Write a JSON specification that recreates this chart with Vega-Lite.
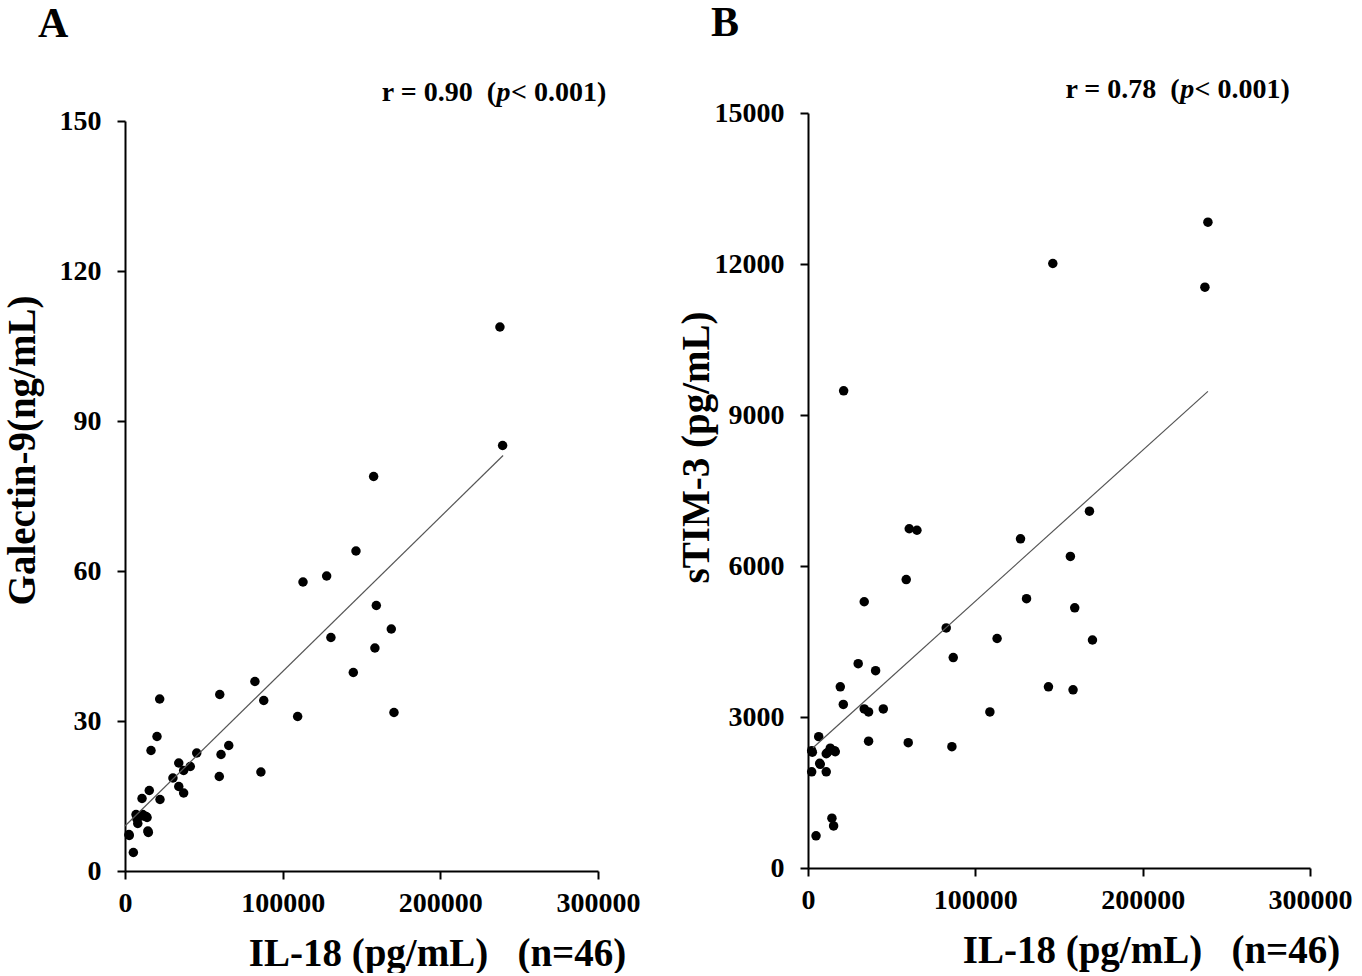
{
  "$schema": "https://vega.github.io/schema/vega-lite/v6.json",
  "background": "white",
  "padding": {"left": 3, "top": 2, "right": 4, "bottom": 0},
  "spacing": 37,
  "config": {
    "view": {"stroke": null},
    "font": "Liberation Serif",
    "axis": {
      "grid": false,
      "domainColor": "black",
      "domainWidth": 2,
      "tickColor": "black",
      "tickWidth": 2,
      "tickSize": 8,
      "labelFlush": false,
      "labelFont": "Liberation Serif",
      "labelFontWeight": "bold",
      "labelFontSize": 28,
      "labelColor": "black",
      "titleFont": "Liberation Serif",
      "titleFontWeight": "bold",
      "titleFontSize": 39,
      "titleColor": "black"
    },
    "title": {"font": "Liberation Serif", "fontWeight": "bold", "fontSize": 42, "color": "black"}
  },
  "datasets": {
    "a": [
      {"il18": 237800, "gal9": 108.8}, {"il18": 239500, "gal9": 85.1}, {"il18": 157700, "gal9": 78.9},
      {"il18": 146500, "gal9": 64.0}, {"il18": 127900, "gal9": 59.0}, {"il18": 112900, "gal9": 57.8},
      {"il18": 159400, "gal9": 53.1}, {"il18": 168900, "gal9": 48.4}, {"il18": 130600, "gal9": 46.7},
      {"il18": 158500, "gal9": 44.6}, {"il18": 144800, "gal9": 39.7}, {"il18": 82400, "gal9": 37.9},
      {"il18": 60100, "gal9": 35.3}, {"il18": 22000, "gal9": 34.4}, {"il18": 88000, "gal9": 34.1},
      {"il18": 170600, "gal9": 31.7}, {"il18": 109500, "gal9": 30.9}, {"il18": 20300, "gal9": 26.9},
      {"il18": 16500, "gal9": 24.1}, {"il18": 45500, "gal9": 23.6}, {"il18": 34100, "gal9": 21.6},
      {"il18": 60900, "gal9": 23.3}, {"il18": 65800, "gal9": 25.1}, {"il18": 41400, "gal9": 20.9},
      {"il18": 37200, "gal9": 20.1}, {"il18": 30400, "gal9": 18.6}, {"il18": 59800, "gal9": 18.9},
      {"il18": 86200, "gal9": 19.8}, {"il18": 34100, "gal9": 16.9}, {"il18": 37200, "gal9": 15.6},
      {"il18": 15400, "gal9": 16.1}, {"il18": 10800, "gal9": 14.5}, {"il18": 22200, "gal9": 14.3},
      {"il18": 7000, "gal9": 11.3}, {"il18": 11200, "gal9": 11.3}, {"il18": 14000, "gal9": 10.7},
      {"il18": 8100, "gal9": 9.5}, {"il18": 14800, "gal9": 7.7}, {"il18": 2700, "gal9": 7.1},
      {"il18": 5300, "gal9": 3.7}, {"il18": 11800, "gal9": 11.0}, {"il18": 13400, "gal9": 10.9},
      {"il18": 7600, "gal9": 10.4}, {"il18": 9800, "gal9": 11.0}, {"il18": 2500, "gal9": 7.3},
      {"il18": 14500, "gal9": 8.0}
    ],
    "b": [
      {"il18": 239000, "tim3": 12830}, {"il18": 146300, "tim3": 12010}, {"il18": 237200, "tim3": 11540},
      {"il18": 21300, "tim3": 9480}, {"il18": 168200, "tim3": 7090}, {"il18": 60500, "tim3": 6740},
      {"il18": 65100, "tim3": 6710}, {"il18": 127000, "tim3": 6540}, {"il18": 156800, "tim3": 6190},
      {"il18": 58700, "tim3": 5730}, {"il18": 130600, "tim3": 5350}, {"il18": 159400, "tim3": 5170},
      {"il18": 82600, "tim3": 4770}, {"il18": 113000, "tim3": 4560}, {"il18": 170000, "tim3": 4530},
      {"il18": 86800, "tim3": 4180}, {"il18": 30000, "tim3": 4060}, {"il18": 40400, "tim3": 3920},
      {"il18": 19300, "tim3": 3600}, {"il18": 143700, "tim3": 3600}, {"il18": 158400, "tim3": 3540},
      {"il18": 21100, "tim3": 3250}, {"il18": 33600, "tim3": 3160}, {"il18": 36200, "tim3": 3100},
      {"il18": 45000, "tim3": 3160}, {"il18": 108700, "tim3": 3100}, {"il18": 33600, "tim3": 5290},
      {"il18": 36200, "tim3": 2520}, {"il18": 59900, "tim3": 2490}, {"il18": 86000, "tim3": 2410},
      {"il18": 6400, "tim3": 2610}, {"il18": 2200, "tim3": 2330}, {"il18": 13300, "tim3": 2380},
      {"il18": 10900, "tim3": 2270}, {"il18": 16300, "tim3": 2310}, {"il18": 7300, "tim3": 2060},
      {"il18": 2200, "tim3": 1910}, {"il18": 10900, "tim3": 1910}, {"il18": 14300, "tim3": 990},
      {"il18": 15300, "tim3": 835}, {"il18": 4800, "tim3": 640}, {"il18": 13800, "tim3": 2350},
      {"il18": 11500, "tim3": 2290}, {"il18": 2600, "tim3": 2300}, {"il18": 15800, "tim3": 2330},
      {"il18": 7000, "tim3": 2080}
    ],
    "la": [{"il18": 0, "gal9": 9.0}, {"il18": 239800, "gal9": 83.1}],
    "lb": [{"il18": 3000, "tim3": 2390}, {"il18": 239000, "tim3": 9470}],
    "one": [{}]
  },
  "hconcat": [
    {
      "width": 473,
      "height": 758,
      "title": {"text": "A", "anchor": "start", "frame": "group", "dx": -87, "offset": 33},
      "layer": [
        {
          "data": {"name": "a"},
          "mark": {"type": "circle", "size": 90, "color": "black", "opacity": 1},
          "encoding": {
            "x": {"field": "il18", "type": "quantitative",
              "scale": {"domain": [0, 300000], "nice": false},
              "axis": {"title": "IL-18 (pg/mL)\u00a0\u00a0\u00a0(n=46)", "values": [0, 100000, 200000, 300000], "format": "d",
                "labelPadding": 10, "titleX": 312, "titleY": 94, "titleAlign": "center", "titleBaseline": "alphabetic"}},
            "y": {"field": "gal9", "type": "quantitative",
              "scale": {"domain": [0, 150], "nice": false, "range": [758, 8]},
              "axis": {"title": "Galectin-9(ng/mL)", "values": [0, 30, 60, 90, 120, 150], "format": "d",
                "labelPadding": 16, "titleAngle": -90, "titleX": -103, "titleY": 337, "titleAlign": "center", "titleBaseline": "middle"}}
          }
        },
        {
          "data": {"name": "la"},
          "mark": {"type": "line", "color": "#555555", "strokeWidth": 1.2},
          "encoding": {
            "x": {"field": "il18", "type": "quantitative"},
            "y": {"field": "gal9", "type": "quantitative"}
          }
        },
        {
          "data": {"name": "one"},
          "mark": {"type": "text", "text": "r = 0.90\u00a0\u00a0(", "align": "right", "baseline": "middle", "fontSize": 28, "fontWeight": "bold", "font": "Liberation Serif", "color": "black"},
          "encoding": {"x": {"datum": 235300}, "y": {"datum": 155.7}}
        },
        {
          "data": {"name": "one"},
          "mark": {"type": "text", "text": "p", "align": "center", "baseline": "middle", "fontSize": 28, "fontWeight": "bold", "fontStyle": "italic", "font": "Liberation Serif", "color": "black"},
          "encoding": {"x": {"datum": 240000}, "y": {"datum": 155.7}}
        },
        {
          "data": {"name": "one"},
          "mark": {"type": "text", "text": "< 0.001)", "align": "left", "baseline": "middle", "fontSize": 28, "fontWeight": "bold", "font": "Liberation Serif", "color": "black"},
          "encoding": {"x": {"datum": 244800}, "y": {"datum": 155.7}}
        }
      ]
    },
    {
      "width": 502,
      "height": 755,
      "title": {"text": "B", "anchor": "start", "frame": "group", "dx": -97, "offset": 31},
      "layer": [
        {
          "data": {"name": "b"},
          "mark": {"type": "circle", "size": 90, "color": "black", "opacity": 1},
          "encoding": {
            "x": {"field": "il18", "type": "quantitative",
              "scale": {"domain": [0, 300000], "nice": false},
              "axis": {"title": "IL-18 (pg/mL)\u00a0\u00a0\u00a0(n=46)", "values": [0, 100000, 200000, 300000], "format": "d",
                "labelPadding": 10, "titleX": 343, "titleY": 94, "titleAlign": "center", "titleBaseline": "alphabetic"}},
            "y": {"field": "tim3", "type": "quantitative",
              "scale": {"domain": [0, 15000], "nice": false},
              "axis": {"title": "sTIM-3 (pg/mL)", "values": [0, 3000, 6000, 9000, 12000, 15000], "format": "d",
                "labelPadding": 16, "titleAngle": -90, "titleX": -112, "titleY": 334, "titleAlign": "center", "titleBaseline": "middle"}}
          }
        },
        {
          "data": {"name": "lb"},
          "mark": {"type": "line", "color": "#555555", "strokeWidth": 1.2},
          "encoding": {
            "x": {"field": "il18", "type": "quantitative"},
            "y": {"field": "tim3", "type": "quantitative"}
          }
        },
        {
          "data": {"name": "one"},
          "mark": {"type": "text", "text": "r = 0.78\u00a0\u00a0(", "align": "right", "baseline": "middle", "fontSize": 28, "fontWeight": "bold", "font": "Liberation Serif", "color": "black"},
          "encoding": {"x": {"datum": 222100}, "y": {"datum": 15451}}
        },
        {
          "data": {"name": "one"},
          "mark": {"type": "text", "text": "p", "align": "center", "baseline": "middle", "fontSize": 28, "fontWeight": "bold", "fontStyle": "italic", "font": "Liberation Serif", "color": "black"},
          "encoding": {"x": {"datum": 226600}, "y": {"datum": 15451}}
        },
        {
          "data": {"name": "one"},
          "mark": {"type": "text", "text": "< 0.001)", "align": "left", "baseline": "middle", "fontSize": 28, "fontWeight": "bold", "font": "Liberation Serif", "color": "black"},
          "encoding": {"x": {"datum": 231000}, "y": {"datum": 15451}}
        }
      ]
    }
  ]
}
